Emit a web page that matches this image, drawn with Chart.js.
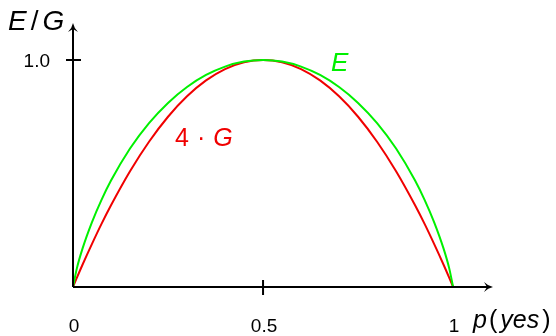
<!DOCTYPE html>
<html>
<head>
<meta charset="utf-8">
<script src="https://cdn.jsdelivr.net/npm/chart.js@4/dist/chart.umd.min.js"></script>
<style>
  html, body { margin: 0; padding: 0; background: #fff; }
  #wrap { width: 556px; height: 336px; }
</style>
</head>
<body>
<div id="wrap"><canvas id="c" width="556" height="336"></canvas></div>
<script>
// Probability of "yes"
const pValues = [0, 0.01, 0.025, 0.05, 0.075, 0.1, 0.15, 0.2, 0.25, 0.3, 0.35, 0.4, 0.45, 0.5,
                 0.55, 0.6, 0.65, 0.7, 0.75, 0.8, 0.85, 0.9, 0.925, 0.95, 0.975, 0.99, 1];
// Entropy E
const entropy = [0, 0.081, 0.169, 0.286, 0.384, 0.469, 0.610, 0.722, 0.811, 0.881, 0.934, 0.971, 0.993, 1,
                 0.993, 0.971, 0.934, 0.881, 0.811, 0.722, 0.610, 0.469, 0.384, 0.286, 0.169, 0.081, 0];
// Scaled Gini impurity 4·G
const gini4 = [0, 0.040, 0.098, 0.19, 0.278, 0.36, 0.51, 0.64, 0.75, 0.84, 0.91, 0.96, 0.99, 1,
               0.99, 0.96, 0.91, 0.84, 0.75, 0.64, 0.51, 0.36, 0.278, 0.19, 0.098, 0.040, 0];
const xTicks = [0, 0.5, 1];
const xTickLabels = ['0', '0.5', '1'];
const yTicks = [1];
const yTickLabels = ['1.0'];

const FONT = '"Liberation Sans", Arial, Helvetica, sans-serif';
const GREEN = '#00f000';
const RED = '#f00000';

const toPoints = ys => pValues.map((p, i) => ({ x: p, y: ys[i] }));

function arrowHead(ctx, x, y, dir) {
  ctx.save();
  ctx.translate(x, y);
  if (dir === 'up') ctx.rotate(-Math.PI / 2);
  ctx.beginPath();
  ctx.moveTo(0, 0);
  ctx.quadraticCurveTo(-5, 1, -9, 5);
  ctx.lineTo(-6, 0);
  ctx.lineTo(-9, -5);
  ctx.quadraticCurveTo(-5, -1, 0, 0);
  ctx.closePath();
  ctx.fillStyle = '#000';
  ctx.fill();
  ctx.restore();
}

// draws a run of text pieces [text, italic, gapAfter] starting at x
function drawPieces(ctx, pieces, x, y, size) {
  let cx = x;
  pieces.forEach(([t, italic, gap]) => {
    ctx.font = (italic ? 'italic ' : '') + size + 'px ' + FONT;
    ctx.fillText(t, cx, y);
    cx += ctx.measureText(t).width + (gap || 0);
  });
}

const axesPlugin = {
  id: 'axesPlugin',
  afterDatasetsDraw(chart) {
    const { ctx, scales: { x, y } } = chart;
    const x0 = x.getPixelForValue(0);
    const y0 = y.getPixelForValue(0);
    const xEnd = x.getPixelForValue(x.max);
    const yEnd = y.getPixelForValue(y.max);
    ctx.save();
    ctx.strokeStyle = '#000';
    ctx.lineWidth = 2;
    ctx.beginPath();
    ctx.moveTo(x0, y0);
    ctx.lineTo(xEnd - 3, y0);
    ctx.moveTo(x0, y0);
    ctx.lineTo(x0, yEnd + 3);
    ctx.stroke();
    arrowHead(ctx, xEnd, y0, 'right');
    arrowHead(ctx, x0, yEnd, 'up');

    ctx.beginPath();
    xTicks.forEach(v => {
      if (v === 0 || v === 1) return;
      const px = x.getPixelForValue(v);
      ctx.moveTo(px, y0 - 7);
      ctx.lineTo(px, y0 + 8);
    });
    yTicks.forEach(v => {
      const py = y.getPixelForValue(v);
      ctx.moveTo(x0 - 7, py);
      ctx.lineTo(x0 + 8, py);
    });
    ctx.stroke();

    ctx.fillStyle = '#000';
    ctx.font = '19px ' + FONT;
    ctx.textAlign = 'center';
    ctx.textBaseline = 'alphabetic';
    xTicks.forEach((v, i) => {
      ctx.fillText(xTickLabels[i], x.getPixelForValue(v) + 1, 332);
    });
    ctx.textAlign = 'right';
    yTicks.forEach((v, i) => {
      ctx.fillText(yTickLabels[i], x0 - 23, y.getPixelForValue(v) + 7);
    });

    ctx.textAlign = 'left';
    drawPieces(ctx, [['E', true, 4], ['/', false, 4], ['G', true]], 8, 30, 28);
    drawPieces(ctx, [['p', true, 2], ['(', false, 3], ['yes', true, 3], [')', false]], 473, 328, 25);

    ctx.fillStyle = GREEN;
    drawPieces(ctx, [['E', true]], 331, 71, 26);
    ctx.fillStyle = RED;
    drawPieces(ctx, [['4', false, 8], ['\u00b7', false, 8], ['G', true]], 175, 146, 25);
    ctx.restore();
  }
};

new Chart(document.getElementById('c'), {
  type: 'line',
  data: {
    datasets: [
      {
        label: 'E',
        data: toPoints(entropy),
        borderColor: GREEN,
        borderWidth: 2,
        pointRadius: 0,
        cubicInterpolationMode: 'monotone',
        fill: false
      },
      {
        label: '4·G',
        data: toPoints(gini4),
        borderColor: RED,
        borderWidth: 2,
        pointRadius: 0,
        cubicInterpolationMode: 'monotone',
        fill: false
      }
    ]
  },
  options: {
    responsive: false,
    animation: false,
    layout: { padding: { left: 73, right: 63, top: 23, bottom: 49 } },
    plugins: { legend: { display: false }, tooltip: { enabled: false } },
    scales: {
      x: { type: 'linear', min: 0, max: 1.105, display: false },
      y: { type: 'linear', min: 0, max: 1.163, display: false }
    }
  },
  plugins: [axesPlugin]
});
</script>
</body>
</html>
